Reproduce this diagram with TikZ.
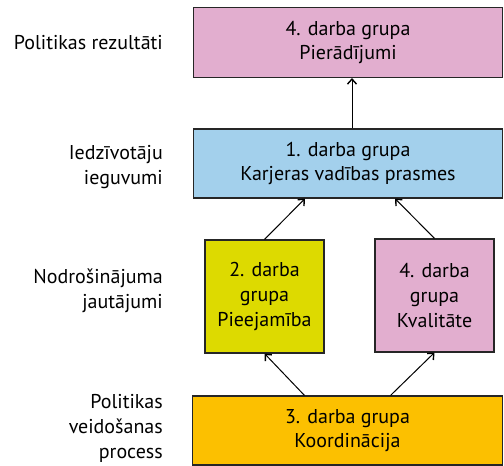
\documentclass[tikz,border=0pt]{standalone}
\usepackage{fontspec}
\setmainfont{PT Sans}
\usetikzlibrary{arrows.meta}
\definecolor{cpink}{HTML}{E2AECF}
\definecolor{cblue}{HTML}{A3D0EC}
\definecolor{cyel}{HTML}{DDDA00}
\definecolor{corange}{HTML}{FCC000}
\tikzset{
  box/.style={draw=black!85, line width=1.1pt, align=center, font=\fontsize{20}{24}\selectfont, inner sep=0pt},
  lab/.style={align=right, anchor=east, font=\fontsize{20}{25}\selectfont, inner sep=0pt},
  arr/.style={line width=1pt, -{Straight Barb[length=5pt,width=9pt,line width=1.4pt]}}
}
\begin{document}
\begin{tikzpicture}[x=1pt,y=-1pt]
\useasboundingbox (0,0) rectangle (504,466);
\node[box, fill=cpink, minimum width=309pt, minimum height=70pt] (top) at (348,42.5) {4. darba grupa\\Pierādījumi};
\node[box, fill=cblue, minimum width=309pt, minimum height=69pt] (mid) at (348,163.5) {1. darba grupa\\Karjeras vadības prasmes};
\node[box, fill=cyel, minimum width=119pt, minimum height=113pt, font=\fontsize{20}{25}\selectfont] (yel) at (264.5,296.5) {2. darba\\grupa\\Pieejamība};
\node[box, fill=cpink, minimum width=119pt, minimum height=113pt, font=\fontsize{20}{25}\selectfont] (pnk) at (434.5,295.5) {4. darba\\grupa\\Kvalitāte};
\node[box, fill=corange, minimum width=310pt, minimum height=69pt] (bot) at (347.5,430.5) {3. darba grupa\\Koordinācija};

\node[lab] (l1) at (163,43) {Politikas rezultāti};
\node[lab] (l2) at (163,167) {Iedzīvotāju\\ieguvumi};
\node[lab] (l3) at (163,291) {Nodrošinājuma\\jautājumi};
\node[lab] (l4) at (163,428) {Politikas\\veidošanas\\process};

\draw[arr] (mid.north -| top.south) ++(4,0) coordinate (a0) -- (a0 |- top.south);
\draw[arr] (yel.north) -- ([xshift=-43pt]mid.south);
\draw[arr] (pnk.north) -- ([xshift=47pt]mid.south);
\draw[arr] ([xshift=-43pt]bot.north) -- (yel.south);
\draw[arr] ([xshift=43pt]bot.north) -- (pnk.south);
\end{tikzpicture}
\end{document}
